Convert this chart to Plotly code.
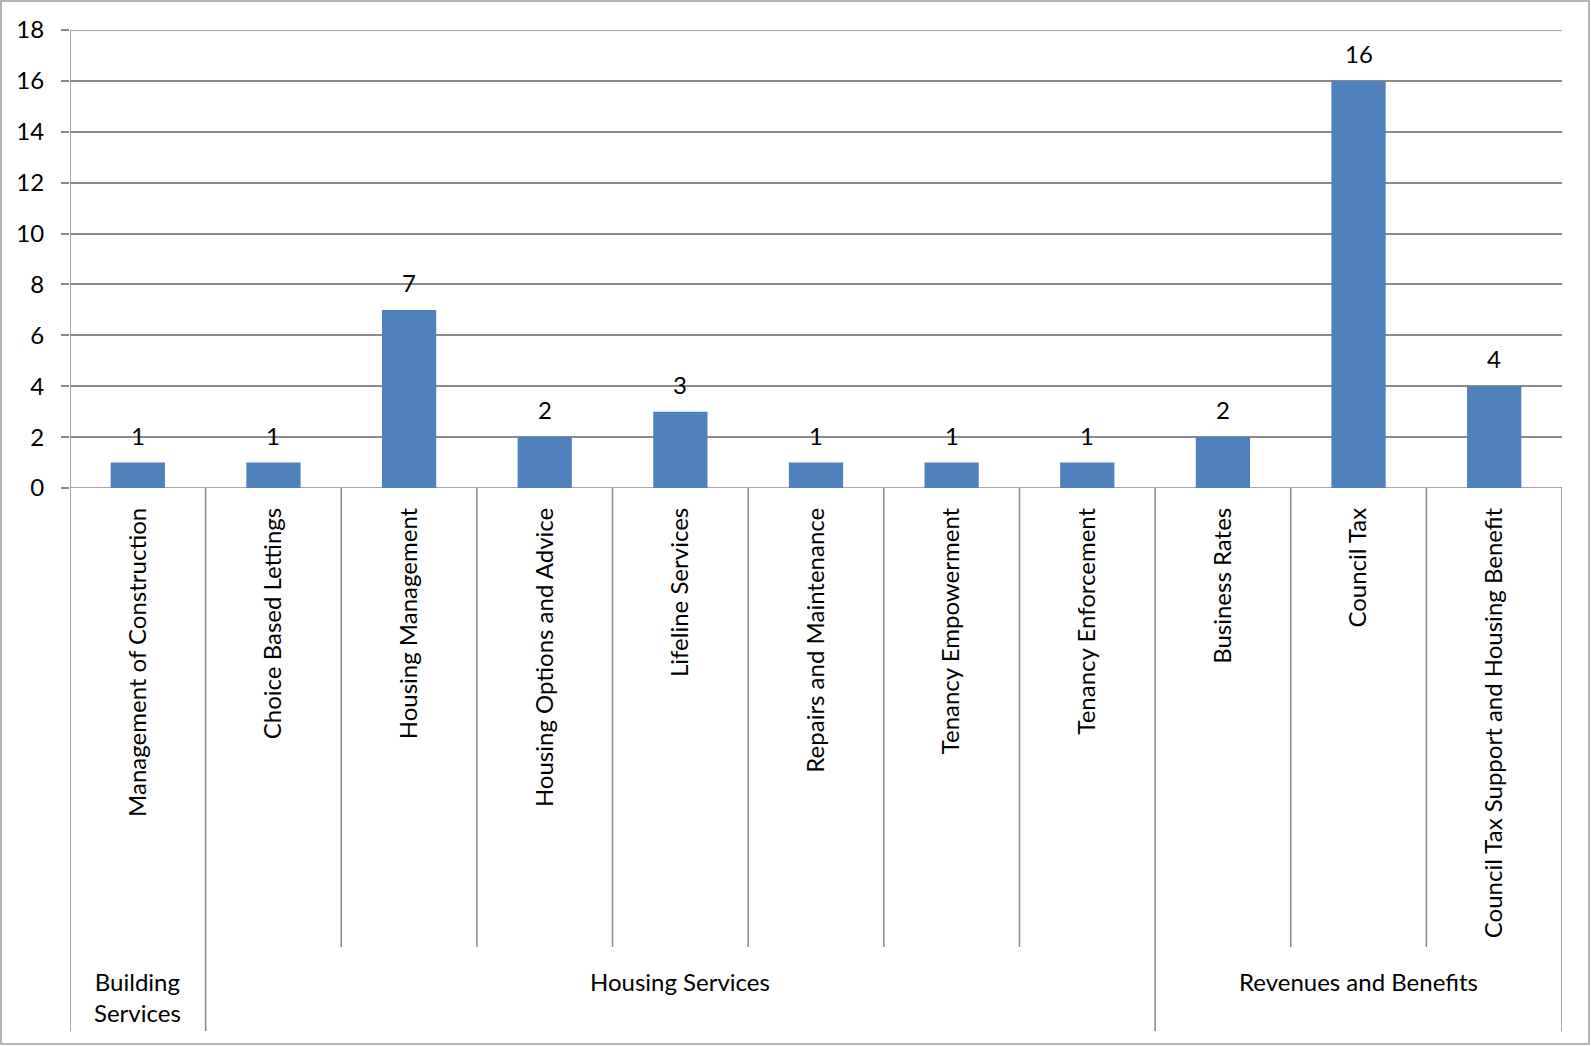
import plotly.graph_objects as go

categories = ["Management of Construction", "Choice Based Lettings", "Housing Management",
              "Housing Options and Advice", "Lifeline Services", "Repairs and Maintenance",
              "Tenancy Empowerment", "Tenancy Enforcement", "Business Rates", "Council Tax",
              "Council Tax Support and Housing Benefit"]
groups = ["Building Services", "Housing Services", "Housing Services", "Housing Services",
          "Housing Services", "Housing Services", "Housing Services", "Housing Services",
          "Revenues and Benefits", "Revenues and Benefits", "Revenues and Benefits"]
group_labels = {"Building Services": "Building<br>Services",
                "Housing Services": "Housing Services",
                "Revenues and Benefits": "Revenues and Benefits"}
values = [1, 1, 7, 2, 3, 1, 1, 1, 2, 16, 4]
y_ticks = [0, 2, 4, 6, 8, 10, 12, 14, 16, 18]

W, H = 1591, 1046
L, R, T, B = 70, 29, 30, 558
plot_h = H - T - B
plot_w = W - L - R
FONT = "Lato"
GRID = "#8a8a8a"
FS = 24

def py(p):
    return (H - B - p) / plot_h

def px(p):
    return (p - L) / plot_w

xs = list(range(len(categories)))

fig = go.Figure()
fig.add_trace(go.Bar(x=xs, y=values, marker=dict(color="#4F81BD", line=dict(width=0)),
                     width=0.4, showlegend=False, hoverinfo="x+y"))

annotations = []
for i, v in zip(xs, values):
    annotations.append(dict(x=i, y=v, xref="x", yref="y", text=str(v), showarrow=False,
                            yanchor="bottom", yshift=11, font=dict(family=FONT, size=FS, color="black")))

# group spans
spans = []
start = 0
for i in range(1, len(groups) + 1):
    if i == len(groups) or groups[i] != groups[start]:
        spans.append((groups[start], start, i - 1))
        start = i
shapes = []
for g, a, b in spans:
    annotations.append(dict(x=(a + b) / 2, y=py(965), xref="x", yref="paper",
                            text=group_labels[g], showarrow=False, yanchor="top",
                            font=dict(family=FONT, size=FS, color="black")))
    shapes.append(dict(type="line", xref="x", yref="paper", x0=b + 0.5, x1=b + 0.5,
                       y0=0, y1=py(1031), line=dict(color=GRID, width=1.5)))
    for k in range(a, b):
        shapes.append(dict(type="line", xref="x", yref="paper", x0=k + 0.5, x1=k + 0.5,
                           y0=0, y1=py(947), line=dict(color=GRID, width=1.5)))
# edge gridlines (0 and max)
for yv in (y_ticks[0], y_ticks[-1]):
    shapes.append(dict(type="line", xref="paper", yref="y", x0=0, x1=1, y0=yv, y1=yv,
                       line=dict(color=GRID, width=1.5), layer="below"))
# left axis line extended
shapes.append(dict(type="line", xref="x", yref="paper", x0=-0.5, x1=-0.5,
                   y0=1, y1=py(1031), line=dict(color=GRID, width=1.5)))
# outer border
shapes.append(dict(type="rect", xref="paper", yref="paper", x0=px(1), x1=px(W - 2),
                   y0=py(H - 2), y1=py(1), line=dict(color="#9a9a9a", width=1.5),
                   fillcolor="rgba(0,0,0,0)"))

fig.update_layout(
    width=W, height=H,
    margin=dict(l=L, r=R, t=T, b=B, autoexpand=False),
    paper_bgcolor="white", plot_bgcolor="white",
    font=dict(family=FONT, size=FS, color="black"),
    bargap=0.6,
    annotations=annotations,
    shapes=shapes,
    xaxis=dict(range=[-0.5, len(categories) - 0.5], tickmode="array", tickvals=xs,
               ticktext=categories, tickangle=-90, showgrid=False, zeroline=False,
               showline=False, ticks="", ticklabelstandoff=14,
               tickfont=dict(family=FONT, size=FS, color="black")),
    yaxis=dict(range=[0, 18], tickmode="array", tickvals=y_ticks, showgrid=True,
               gridcolor=GRID, gridwidth=1.5, zeroline=False, showline=False,
               ticks="outside", ticklen=8, tickcolor=GRID, tickwidth=1.5,
               ticklabelstandoff=12, tickfont=dict(family=FONT, size=FS, color="black")),
)

fig.write_html("out.html", config={"displayModeBar": False},
               post_script="document.body.style.margin='0';document.body.style.overflow='hidden';")
